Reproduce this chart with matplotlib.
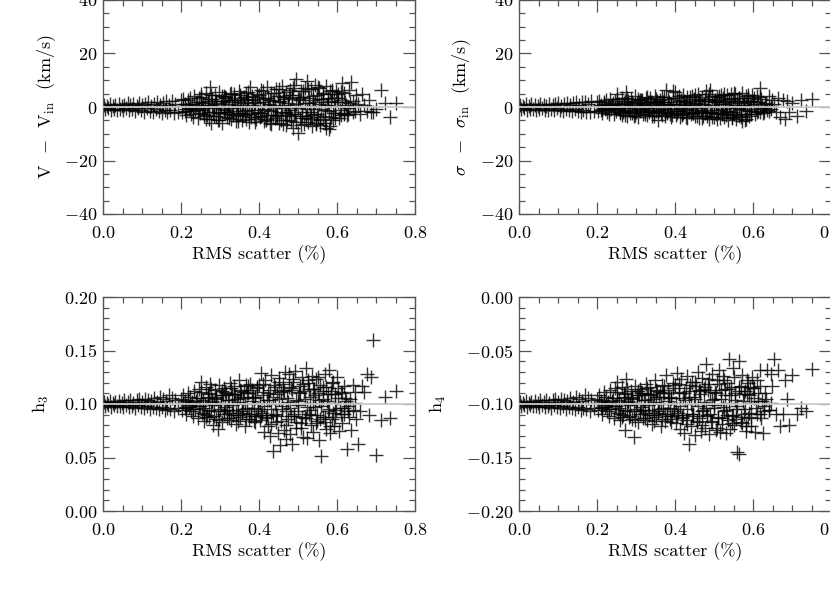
import numpy as np
import matplotlib
matplotlib.use("Agg")
import matplotlib.pyplot as plt
from matplotlib.ticker import MultipleLocator, FormatStrFormatter

plt.rcParams['font.family'] = 'serif'
plt.rcParams['font.serif'] = ['cmr10']
plt.rcParams['mathtext.fontset'] = 'cm'
plt.rcParams['axes.formatter.use_mathtext'] = True
plt.rcParams['axes.unicode_minus'] = True

# RMS scatter (%) of each simulation
rms_a = [0.002, 0.006, 0.010, 0.013, 0.017, 0.021, 0.025, 0.029, 0.032, 0.036,
         0.040, 0.044, 0.048, 0.051, 0.055, 0.059, 0.063, 0.067, 0.070, 0.074,
         0.078, 0.082, 0.086, 0.089, 0.093, 0.097, 0.101, 0.105, 0.108, 0.112,
         0.116, 0.120, 0.124, 0.127, 0.131, 0.135, 0.139, 0.143, 0.146, 0.150,
         0.154, 0.158, 0.162, 0.165, 0.169, 0.173, 0.177, 0.181, 0.185, 0.193]
rms_b = [0.200, 0.203, 0.206, 0.209, 0.211, 0.214, 0.217, 0.220, 0.223, 0.226,
         0.229, 0.231, 0.234, 0.237, 0.240, 0.243, 0.246, 0.249, 0.251, 0.254,
         0.257, 0.260, 0.263, 0.266, 0.269, 0.271, 0.274, 0.277, 0.280, 0.283,
         0.286, 0.289, 0.291, 0.294, 0.297, 0.300, 0.303, 0.306, 0.309, 0.311,
         0.314, 0.317, 0.320, 0.323, 0.326, 0.329, 0.331, 0.334, 0.337, 0.340,
         0.343, 0.346, 0.349, 0.351, 0.354, 0.357, 0.360, 0.363, 0.366, 0.369,
         0.371, 0.374, 0.377, 0.380, 0.383, 0.386, 0.389, 0.392, 0.395, 0.398]
rms_c = [0.400, 0.403, 0.405, 0.408, 0.411, 0.413, 0.416, 0.419, 0.421, 0.424,
         0.427, 0.429, 0.432, 0.435, 0.437, 0.440, 0.443, 0.445, 0.448, 0.451,
         0.453, 0.456, 0.459, 0.461, 0.464, 0.467, 0.469, 0.472, 0.475, 0.477,
         0.480, 0.483, 0.485, 0.488, 0.491, 0.493, 0.496, 0.499, 0.501, 0.504,
         0.507, 0.509, 0.512, 0.515, 0.517, 0.520, 0.523, 0.525, 0.528, 0.531,
         0.533, 0.536, 0.539, 0.541, 0.544, 0.547, 0.549, 0.552, 0.555, 0.557,
         0.560, 0.563, 0.565, 0.568, 0.571, 0.573, 0.576, 0.579, 0.581, 0.584,
         0.587, 0.589, 0.592, 0.595, 0.598]
rms_d = [0.601, 0.605, 0.609, 0.613, 0.617, 0.621, 0.626, 0.630, 0.635, 0.640,
         0.645, 0.649, 0.653, 0.658, 0.664, 0.670, 0.677, 0.682, 0.688, 0.692,
         0.700, 0.712, 0.724, 0.736, 0.750]
rms_e = [0.205, 0.212, 0.219, 0.224, 0.232, 0.238, 0.245, 0.250, 0.256, 0.262,
         0.268, 0.273, 0.279, 0.285, 0.290, 0.296, 0.302, 0.307, 0.313, 0.318,
         0.324, 0.330, 0.335, 0.341, 0.347, 0.352, 0.358, 0.364, 0.368, 0.375,
         0.381, 0.387, 0.391, 0.397, 0.402, 0.409, 0.414, 0.420, 0.425, 0.431,
         0.436, 0.442, 0.447, 0.452, 0.458, 0.463, 0.468, 0.474, 0.479, 0.484,
         0.490, 0.495, 0.500, 0.506, 0.511, 0.517, 0.522, 0.527, 0.532, 0.538,
         0.543, 0.548, 0.554, 0.559, 0.564, 0.569, 0.575, 0.580, 0.585, 0.590,
         0.596, 0.602, 0.607, 0.612, 0.618, 0.623, 0.628, 0.634, 0.640, 0.646]
rms_f = [0.252, 0.259, 0.265, 0.272, 0.278, 0.284, 0.291, 0.297, 0.304, 0.310,
         0.316, 0.322, 0.328, 0.333, 0.339, 0.345, 0.350, 0.356, 0.362, 0.367,
         0.373, 0.379, 0.385, 0.390, 0.396, 0.404, 0.410, 0.417, 0.423, 0.430,
         0.438, 0.444, 0.450, 0.456, 0.462, 0.470, 0.476, 0.482, 0.488, 0.494,
         0.502, 0.508, 0.514, 0.520, 0.526, 0.533, 0.539, 0.545, 0.551, 0.557,
         0.563, 0.570, 0.576, 0.582, 0.588, 0.594, 0.603, 0.611, 0.619, 0.627]

# V - V_in (km/s)
dv_a = [0.8, -0.9, 0.5, -0.4, 1.1, -1.2, 0.3, -0.7, 0.9, -1.0,
        1.2, -0.6, 0.4, -1.3, 0.7, -0.2, 1.4, -1.1, 0.6, -0.8,
        1.0, -1.5, 0.2, -0.5, 1.6, -1.2, 0.8, -1.7, 1.3, -0.3,
        1.8, -1.4, 0.5, -1.9, 1.1, -0.9, 2.0, -1.6, 0.7, -2.1,
        1.5, -1.0, 2.2, -2.0, 0.9, -1.3, 2.4, -2.3, 1.2, -1.8]
dv_b = [2.5, -2.0, 3.1, -1.5, 1.2, -3.0, 2.8, -0.8, 3.5, -2.6,
        1.0, -3.8, 4.2, -1.2, 2.0, -4.0, 3.3, -2.2, 4.8, -0.5,
        1.6, -3.5, 5.2, -2.9, 0.7, -4.6, 7.3, -5.8, 3.0, -1.8,
        4.4, -3.2, 1.3, -4.9, 5.6, -2.4, 2.3, -6.1, 4.0, -0.9,
        3.6, -3.9, 1.8, -2.7, 5.0, -4.3, 2.6, -1.4, 4.7, -5.2,
        0.9, -3.4, 6.0, -2.1, 3.2, -4.8, 1.5, -3.0, 5.4, -1.1,
        2.9, -5.5, 7.4, -2.5, 4.1, -3.7, 1.7, -4.4, 3.8, -2.0]
dv_c = [4.5, -3.8, 6.2, -2.1, 1.9, -5.4, 3.3, -4.7, 7.6, -1.3,
        2.7, -6.0, 5.1, -2.9, 0.8, -4.2, 6.8, -3.5, 4.0, -5.8,
        2.2, -1.7, 7.9, -6.5, 3.6, -2.4, 5.5, -4.9, 1.4, -3.1,
        6.4, -5.1, 4.3, -7.8, 8.2, -2.6, 10.6, -9.6, 2.9, -4.0,
        5.8, -1.9, 3.7, -6.3, 7.1, -3.3, 9.8, -5.6, 1.6, -4.4,
        6.6, -7.0, 2.5, -2.8, 8.4, -5.9, 4.6, -3.6, 7.0, -6.8,
        3.0, -4.5, 5.3, -1.2, 7.7, -7.9, 2.0, -8.2, 6.1, -3.9,
        4.8, -5.0, 3.4, -2.3, 5.9]
dv_d = [3.2, -4.1, 5.6, 9.0, -2.2, 1.8, -3.0, 6.5, 9.5, 2.4,
        -1.6, 4.3, 1.1, -2.7, 5.0, 0.6, -1.4, 2.8, -2.0, -1.9,
        -0.8, 6.4, 1.6, -3.6, 1.5]
dv_e = [0.4, -0.9, 1.3, -0.2, -1.6, 0.9, -0.6, 1.8, -1.2, 0.2,
        2.1, -2.0, 0.7, -0.4, 1.5, -2.3, 0.1, 2.4, -1.0, -1.8,
        1.1, -0.3, 2.6, -2.5, 0.5, 1.9, -1.4, -0.1, 2.8, -2.7,
        0.8, -1.1, 1.6, -2.2, 0.3, 3.0, -0.7, -2.9, 1.2, -1.5,
        2.2, 0.0, -3.1, 1.7, -0.5, 2.9, -2.0, 0.6, -1.3, 3.2,
        -2.6, 1.0, -0.2, 2.5, -3.3, 1.4, -0.8, 3.4, -1.9, 0.2,
        2.0, -2.8, 1.2, -0.6, 3.1, -3.4, 0.9, -1.6, 2.4, -2.2,
        0.4, 1.8, -1.2, 2.7, -2.5, 0.7, -0.4, 1.5, -1.9, 0.3]
dv_f = [3.8, -2.7, -4.4, 3.1, 4.6, -3.3, 2.2, -5.0, 4.1, -2.0,
        3.4, -4.1, 5.1, -3.0, 2.7, -5.3, 4.3, -2.2, 3.7, -4.6,
        5.6, -3.6, 2.5, -5.7, 4.9, -3.2, 6.0, -4.3, 3.3, -6.2,
        5.2, -2.9, 6.7, -5.0, 3.9, -6.6, 4.4, -3.5, 7.2, -5.5,
        3.6, -6.9, 5.8, -4.1, 6.9, -3.0, 4.2, -6.4, 7.5, -4.7,
        5.0, -5.9, 3.2, -7.1, 6.2, -4.0, 4.7, -3.1, 5.4, -2.6]

# sigma - sigma_in (km/s)
ds_a = [0.9, -0.7, 0.4, -0.5, 1.0, -1.0, 0.2, -0.8, 1.1, -0.6,
        0.7, -1.1, 0.5, -0.9, 1.2, -0.4, 0.8, -1.2, 0.3, -1.0,
        1.3, -0.7, 0.6, -1.3, 1.0, -0.5, 1.4, -1.1, 0.4, -1.4,
        1.2, -0.8, 1.6, -1.2, 0.6, -1.5, 1.5, -0.9, 1.8, -1.6,
        0.9, -1.9, 1.7, -1.3, 2.0, -1.7, 1.1, -2.0, 2.2, -1.5]
ds_b = [1.8, -1.6, 2.4, -1.0, 0.8, -2.2, 2.0, -0.6, 2.7, -1.9,
        0.6, -2.6, 3.0, -0.9, 1.4, -2.8, 2.3, -1.5, 5.0, -0.4,
        1.1, -2.4, 3.4, -2.0, 0.5, -3.0, 5.5, -3.2, 2.2, -1.2,
        3.1, -2.3, 0.9, -3.3, 4.0, -1.7, 1.6, -3.6, 2.8, -0.7,
        2.5, -2.7, 1.2, -1.9, 3.5, -2.9, 1.8, -1.0, 3.2, -3.4,
        0.7, -2.4, 4.1, -1.5, 2.2, -5.0, 1.0, -2.1, 3.7, -0.8,
        2.0, -3.5, 6.5, -1.8, 2.9, -2.6, 1.2, -3.0, 5.8, -1.4]
ds_c = [5.6, -2.9, 3.4, -1.6, 1.0, -3.7, 2.6, -3.1, 4.5, -0.9,
        1.9, -3.9, 3.8, -2.0, 0.6, -2.8, 4.2, -2.4, 3.0, -3.5,
        1.5, -1.2, 4.8, -4.2, 2.4, -1.7, 3.6, -3.3, 1.1, -2.2,
        5.9, -3.4, 2.9, -4.5, 6.3, -1.8, 4.1, -3.8, 2.0, -2.7,
        3.9, -1.3, 2.5, -4.0, 4.6, -2.3, 3.3, -3.6, 1.3, -3.0,
        4.3, -4.7, 1.8, -2.0, 5.0, -3.9, 3.1, -2.5, 4.7, -4.4,
        2.2, -3.2, 3.5, -0.8, 5.2, -5.1, 1.6, -4.8, 4.0, -2.6,
        3.2, -3.4, 2.3, -1.6, 4.4]
ds_d = [2.1, -2.6, 4.0, -1.4, 7.1, 3.0, -2.2, 1.5, -1.3, 4.2,
        -0.9, 2.5, 1.0, -1.8, 3.3, -3.7, 2.7, -4.4, 2.4, -2.0,
        1.4, -3.5, 2.6, -1.5, 3.0]
ds_e = [0.3, -0.7, 1.0, -0.2, -1.2, 0.7, -0.5, 1.3, -0.9, 0.1,
        1.5, -1.4, 0.5, -0.3, 1.1, -1.7, 0.0, 1.8, -0.8, -1.3,
        0.8, -0.2, 1.9, -1.8, 0.4, 1.4, -1.0, -0.1, 2.0, -2.0,
        0.6, -0.8, 1.2, -1.6, 0.2, 2.2, -0.5, -2.1, 0.9, -1.1,
        1.6, 0.0, -2.3, 1.3, -0.4, 2.1, -1.5, 0.5, -1.0, 2.3,
        -1.9, 0.7, -0.1, 1.8, -2.4, 1.0, -0.6, 2.4, -1.4, 0.1,
        1.5, -2.0, 0.9, -0.4, 2.2, -2.5, 0.7, -1.2, 1.7, -1.6,
        0.3, 1.3, -0.9, 2.0, -1.8, 0.5, -0.3, 1.1, -1.4, 0.2]
ds_f = [2.9, -1.9, -2.9, 2.3, 3.3, -2.2, 1.7, -3.1, 2.9, -1.4,
        2.5, -2.8, 3.6, -2.0, 1.9, -3.5, 3.0, -1.5, 2.6, -3.0,
        3.9, -2.4, 1.8, -3.7, 3.4, -2.1, 4.2, -2.8, 2.3, -4.0,
        3.7, -1.9, 4.6, -3.3, 2.7, -4.2, 3.1, -2.3, 5.0, -3.6,
        2.5, -4.4, 4.0, -2.7, 4.8, -2.0, 2.9, -4.1, 5.2, -3.1,
        3.5, -3.8, 2.2, -4.5, 4.3, -2.6, 3.3, -2.0, 3.8, -1.7]

# h3
h3_a = [0.102, 0.098, 0.101, 0.099, 0.103, 0.097, 0.101, 0.099, 0.102, 0.098,
        0.103, 0.098, 0.101, 0.097, 0.104, 0.099, 0.102, 0.097, 0.104, 0.098,
        0.101, 0.096, 0.104, 0.099, 0.105, 0.097, 0.102, 0.096, 0.105, 0.098,
        0.104, 0.095, 0.103, 0.097, 0.106, 0.096, 0.102, 0.095, 0.107, 0.097,
        0.105, 0.094, 0.103, 0.096, 0.108, 0.095, 0.106, 0.093, 0.104, 0.096]
h3_b = [0.105, 0.094, 0.108, 0.096, 0.103, 0.091, 0.110, 0.097, 0.107, 0.093,
        0.102, 0.089, 0.112, 0.095, 0.106, 0.087, 0.114, 0.098, 0.121, 0.092,
        0.104, 0.084, 0.116, 0.090, 0.109, 0.088, 0.119, 0.093, 0.103, 0.080,
        0.113, 0.086, 0.106, 0.077, 0.118, 0.095, 0.108, 0.083, 0.115, 0.091,
        0.111, 0.087, 0.104, 0.092, 0.120, 0.085, 0.109, 0.094, 0.117, 0.081,
        0.105, 0.090, 0.122, 0.088, 0.112, 0.093, 0.106, 0.079, 0.118, 0.096,
        0.110, 0.086, 0.119, 0.091, 0.113, 0.084, 0.107, 0.089, 0.116, 0.095]
h3_c = [0.118, 0.085, 0.129, 0.092, 0.108, 0.074, 0.122, 0.088, 0.104, 0.079,
        0.113, 0.070, 0.127, 0.090, 0.056, 0.116, 0.083, 0.109, 0.073, 0.124,
        0.062, 0.111, 0.095, 0.119, 0.076, 0.130, 0.067, 0.106, 0.086, 0.128,
        0.072, 0.115, 0.063, 0.121, 0.089, 0.131, 0.078, 0.103, 0.093, 0.117,
        0.082, 0.125, 0.069, 0.112, 0.087, 0.134, 0.068, 0.120, 0.091, 0.107,
        0.080, 0.126, 0.074, 0.114, 0.097, 0.123, 0.084, 0.110, 0.066, 0.118,
        0.051, 0.105, 0.088, 0.128, 0.077, 0.116, 0.093, 0.132, 0.073, 0.112,
        0.086, 0.121, 0.079, 0.109, 0.094]
h3_d = [0.125, 0.075, 0.111, 0.082, 0.096, 0.106, 0.058, 0.088, 0.076, 0.118,
        0.111, 0.086, 0.063, 0.093, 0.117, 0.111, 0.128, 0.090, 0.125, 0.160,
        0.052, 0.085, 0.107, 0.087, 0.112]
h3_e = [0.101, 0.097, 0.104, 0.099, 0.095, 0.103, 0.098, 0.106, 0.096, 0.100,
        0.107, 0.094, 0.102, 0.099, 0.105, 0.093, 0.100, 0.108, 0.097, 0.094,
        0.104, 0.099, 0.109, 0.092, 0.102, 0.107, 0.095, 0.100, 0.110, 0.091,
        0.103, 0.096, 0.106, 0.093, 0.101, 0.111, 0.098, 0.090, 0.104, 0.095,
        0.107, 0.100, 0.089, 0.105, 0.098, 0.112, 0.093, 0.102, 0.096, 0.113,
        0.091, 0.104, 0.099, 0.110, 0.088, 0.105, 0.097, 0.114, 0.094, 0.101,
        0.108, 0.090, 0.104, 0.098, 0.112, 0.088, 0.103, 0.095, 0.109, 0.092,
        0.101, 0.106, 0.096, 0.110, 0.091, 0.103, 0.098, 0.105, 0.094, 0.101]
h3_f = [0.111, 0.091, 0.088, 0.110, 0.114, 0.089, 0.107, 0.085, 0.112, 0.093,
        0.110, 0.087, 0.115, 0.090, 0.108, 0.084, 0.113, 0.092, 0.111, 0.086,
        0.117, 0.089, 0.107, 0.083, 0.115, 0.090, 0.119, 0.087, 0.110, 0.081,
        0.118, 0.091, 0.121, 0.084, 0.113, 0.080, 0.116, 0.089, 0.123, 0.083,
        0.111, 0.078, 0.119, 0.087, 0.122, 0.090, 0.114, 0.082, 0.125, 0.086,
        0.116, 0.083, 0.109, 0.079, 0.120, 0.088, 0.115, 0.091, 0.117, 0.093]

# h4
h4_a = [-0.098, -0.102, -0.099, -0.101, -0.097, -0.103, -0.099, -0.101, -0.098, -0.102,
        -0.097, -0.102, -0.099, -0.103, -0.096, -0.101, -0.098, -0.103, -0.096, -0.102,
        -0.099, -0.104, -0.096, -0.101, -0.095, -0.103, -0.098, -0.104, -0.095, -0.102,
        -0.096, -0.105, -0.097, -0.103, -0.094, -0.104, -0.098, -0.105, -0.093, -0.103,
        -0.095, -0.106, -0.097, -0.104, -0.092, -0.105, -0.094, -0.107, -0.096, -0.104]
h4_b = [-0.095, -0.106, -0.092, -0.104, -0.097, -0.109, -0.089, -0.103, -0.093, -0.107,
        -0.098, -0.111, -0.087, -0.105, -0.094, -0.113, -0.085, -0.102, -0.079, -0.108,
        -0.096, -0.115, -0.084, -0.110, -0.091, -0.124, -0.077, -0.107, -0.097, -0.112,
        -0.088, -0.114, -0.094, -0.131, -0.083, -0.105, -0.092, -0.117, -0.086, -0.109,
        -0.090, -0.113, -0.096, -0.108, -0.081, -0.115, -0.091, -0.106, -0.084, -0.119,
        -0.095, -0.110, -0.078, -0.112, -0.088, -0.107, -0.093, -0.121, -0.082, -0.104,
        -0.090, -0.116, -0.073, -0.109, -0.087, -0.114, -0.094, -0.111, -0.080, -0.105]
h4_c = [-0.082, -0.118, -0.071, -0.108, -0.090, -0.123, -0.077, -0.112, -0.094, -0.127,
        -0.085, -0.115, -0.074, -0.137, -0.088, -0.121, -0.079, -0.109, -0.093, -0.129,
        -0.083, -0.117, -0.070, -0.113, -0.091, -0.125, -0.076, -0.106, -0.086, -0.122,
        -0.063, -0.110, -0.081, -0.128, -0.089, -0.116, -0.072, -0.104, -0.095, -0.124,
        -0.078, -0.113, -0.068, -0.126, -0.087, -0.119, -0.074, -0.107, -0.092, -0.127,
        -0.080, -0.115, -0.058, -0.123, -0.084, -0.111, -0.066, -0.120, -0.090, -0.105,
        -0.145, -0.060, -0.147, -0.083, -0.118, -0.073, -0.109, -0.088, -0.125, -0.078,
        -0.113, -0.092, -0.084, -0.121, -0.075]
h4_d = [-0.085, -0.126, -0.078, -0.097, -0.068, -0.113, -0.127, -0.090, -0.068, -0.106,
        -0.072, -0.083, -0.058, -0.109, -0.068, -0.121, -0.109, -0.078, -0.095, -0.120,
        -0.073, -0.109, -0.104, -0.107, -0.067]
h4_e = [-0.099, -0.103, -0.096, -0.101, -0.105, -0.097, -0.102, -0.094, -0.104, -0.100,
        -0.093, -0.106, -0.098, -0.101, -0.095, -0.107, -0.100, -0.092, -0.103, -0.106,
        -0.096, -0.101, -0.091, -0.108, -0.098, -0.093, -0.105, -0.100, -0.090, -0.109,
        -0.097, -0.104, -0.094, -0.107, -0.099, -0.089, -0.102, -0.110, -0.096, -0.105,
        -0.093, -0.100, -0.111, -0.095, -0.102, -0.088, -0.107, -0.098, -0.104, -0.087,
        -0.109, -0.096, -0.101, -0.090, -0.112, -0.095, -0.103, -0.086, -0.106, -0.099,
        -0.092, -0.110, -0.096, -0.102, -0.088, -0.112, -0.097, -0.105, -0.091, -0.108,
        -0.099, -0.094, -0.104, -0.090, -0.109, -0.097, -0.102, -0.095, -0.106, -0.099]
h4_f = [-0.089, -0.109, -0.112, -0.090, -0.086, -0.111, -0.093, -0.115, -0.088, -0.107,
        -0.090, -0.113, -0.085, -0.110, -0.092, -0.116, -0.087, -0.108, -0.089, -0.114,
        -0.083, -0.111, -0.093, -0.117, -0.085, -0.110, -0.081, -0.113, -0.090, -0.119,
        -0.082, -0.109, -0.079, -0.116, -0.087, -0.120, -0.084, -0.111, -0.077, -0.117,
        -0.089, -0.122, -0.081, -0.113, -0.078, -0.110, -0.086, -0.118, -0.075, -0.114,
        -0.084, -0.117, -0.091, -0.121, -0.080, -0.112, -0.085, -0.109, -0.083, -0.107]

rms = rms_a + rms_b + rms_c + rms_d + rms_e + rms_f
dv = dv_a + dv_b + dv_c + dv_d + dv_e + dv_f
dsig = ds_a + ds_b + ds_c + ds_d + ds_e + ds_f
h3 = h3_a + h3_b + h3_c + h3_d + h3_e + h3_f
h4 = h4_a + h4_b + h4_c + h4_d + h4_e + h4_f

fig = plt.figure(figsize=(8.3, 5.93), dpi=100)

W = 312 / 830
H = 214 / 593
panels = [
    # left, bottom, y data, ylim, major, minor, fmt, true value, ylabel, label x
    (103 / 830, 1 - 214 / 593, dv, (-40, 40), 20, 5, r'$%d$', 0.0,
     r'V  $-$  V$_{\rm in}$  (km/s)', -0.145),
    (519 / 830, 1 - 214 / 593, dsig, (-40, 40), 20, 5, r'$%d$', 0.0,
     r'$\sigma$  $-$  $\sigma_{\rm in}$  (km/s)', -0.147),
    (103 / 830, 1 - 511 / 593, h3, (0.0, 0.2), 0.05, 0.01, r'$%.2f$', 0.1,
     r'h$_3$', -0.167),
    (519 / 830, 1 - 511 / 593, h4, (-0.2, 0.0), 0.05, 0.01, r'$%.2f$', -0.1,
     r'h$_4$', -0.228),
]

spine_col = '#555555'
for left, bottom, yv, ylim, major, minor, fmt, truth, ylab, lx in panels:
    ax = fig.add_axes([left, bottom, W, H])
    ax.plot(rms, yv, linestyle='none', marker='+', markersize=9.5,
            markeredgewidth=1.0, color='#000000', alpha=0.8, zorder=2)
    ax.axhline(truth, color='#c8c8c8', lw=1.3, zorder=3)
    ax.set_xlim(0.0, 0.8)
    ax.set_ylim(*ylim)
    ax.xaxis.set_major_locator(MultipleLocator(0.2))
    ax.xaxis.set_minor_locator(MultipleLocator(0.05))
    ax.yaxis.set_major_locator(MultipleLocator(major))
    ax.yaxis.set_minor_locator(MultipleLocator(minor))
    ax.xaxis.set_major_formatter(FormatStrFormatter(r'$%.1f$'))
    ax.yaxis.set_major_formatter(FormatStrFormatter(fmt))
    ax.tick_params(which='both', direction='in', top=True, right=True,
                   color=spine_col, width=0.9, labelsize=13)
    ax.tick_params(which='major', length=8.5)
    ax.tick_params(which='minor', length=4.5)
    ax.tick_params(axis='x', which='major', pad=8)
    ax.tick_params(axis='y', which='major', pad=4)
    for s in ax.spines.values():
        s.set_color(spine_col)
        s.set_linewidth(0.9)
    ax.set_xlabel('RMS scatter (%)', fontsize=13, labelpad=3)
    ax.set_ylabel(ylab, fontsize=13)
    ax.yaxis.set_label_coords(lx, 0.5)

fig.savefig('out.png', dpi=100)
